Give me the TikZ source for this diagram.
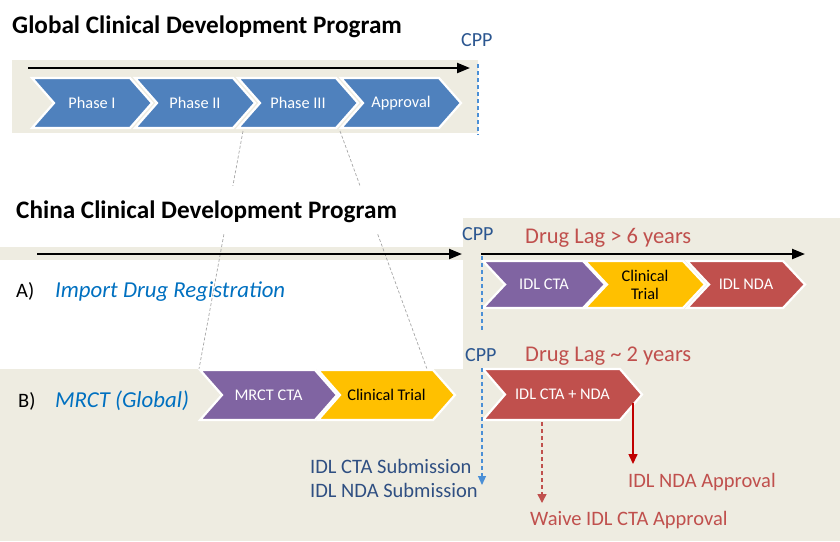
\documentclass[tikz,border=0pt]{standalone}
\usepackage{fontspec}
\setmainfont{Carlito}
\usetikzlibrary{arrows.meta}
\definecolor{beige}{HTML}{EEECE1}
\definecolor{chblue}{HTML}{4F81BD}
\definecolor{chpurple}{HTML}{8064A2}
\definecolor{chyellow}{HTML}{FFC000}
\definecolor{chred}{HTML}{C0504D}
\definecolor{darkred}{HTML}{C00000}
\definecolor{cppblue}{HTML}{2B5690}
\definecolor{subblue}{HTML}{2F4F82}
\definecolor{itblue}{HTML}{0070C0}
\definecolor{dashblue}{HTML}{4A8FD6}
\newcommand\mychev[8]{%
  \fill[#6,draw=white,line width=2.2pt,line join=miter] (#2,#3) -- ++(#4,0) -- ++(22,#5/2) -- ++(-22,#5/2) -- ++(-#4,0) -- ++(22,-#5/2) -- cycle;
  \node[chevtext,#7] (#1) at ({#2+11+#4/2},{#3+#5/2}) {#8};
}
\begin{document}
\begin{tikzpicture}[x=1pt,y=-1pt,
  chevtext/.style={font=\fontsize{16.3}{18}\selectfont,inner sep=0pt,align=center},
  title/.style={font=\fontsize{25.2}{30}\selectfont\bfseries,anchor=base west,inner sep=0pt},
  cpp/.style={font=\fontsize{20}{24}\selectfont,text=cppblue,anchor=base west,inner sep=0pt},
  lag/.style={font=\fontsize{22.5}{26}\selectfont,text=chred,anchor=base west,inner sep=0pt},
  lbl/.style={font=\fontsize{20.5}{24}\selectfont,anchor=base west,inner sep=0pt},
  itl/.style={font=\fontsize{22.8}{26}\selectfont\itshape,text=itblue,anchor=base west,inner sep=0pt},
  timeline/.style={line width=2.2pt,-{Triangle[length=13pt,width=10pt]}},
  guide/.style={draw=gray!70,line width=0.7pt,dash pattern=on 3pt off 2pt},
  cppline/.style={draw=dashblue,line width=1.2pt,dash pattern=on 4pt off 3pt},
]
\useasboundingbox (0,0) rectangle (840,541);
% backgrounds
\fill[beige] (12,60) rectangle (478,133);
\fill[beige] (0,247) rectangle (463,260);
\fill[beige] (463,218) rectangle (840,541);
\fill[beige] (0,369) rectangle (840,541);

% guide lines (zoom from Phase III to MRCT)
\coordinate (g1a) at (243,131);
\coordinate (g1b) at (199,369);
\coordinate (g2a) at (340,131);
\coordinate (g2b) at (427,369);
\draw[guide] (g1a) -- (g1b);
\draw[guide] (g2a) -- (g2b);

% titles
\node[title] (gtitle) at (12,33) {Global Clinical Development Program};
\fill[white] (14,186) rectangle (400,233);
\node[title] (ctitle) at (16,218) {China Clinical Development Program};

% top timeline
\coordinate (t1s) at (28,68);
\coordinate (t1e) at (470,68);
\draw[timeline] (t1s) -- (t1e);
\mychev{p1}{32}{78}{98}{50}{chblue}{text=white}{Phase I}
\mychev{p2}{135}{78}{98}{50}{chblue}{text=white}{Phase II}
\mychev{p3}{238}{78}{98}{50}{chblue}{text=white}{Phase III}
\mychev{p4}{341}{78}{98}{50}{chblue}{text=white}{Approval}
\node[cpp] (cpp1) at (461,46) {CPP};
\coordinate (c1a) at (478,64);
\coordinate (c1b) at (478,135);
\draw[cppline] (c1a) -- (c1b);

% China A
\coordinate (t2s) at (37,254);
\coordinate (t2e) at (462,254);
\draw[timeline] (t2s) -- (t2e);
\coordinate (t3s) at (481,254);
\coordinate (t3e) at (805,254);
\draw[timeline] (t3s) -- (t3e);
\node[cpp] (cpp2) at (462,240) {CPP};
\node[lag] (lag1) at (525,243) {Drug Lag > 6 years};
\node[lbl] (la) at (16,297) {A)};
\node[itl] (ia) at (55,297) {Import Drug Registration};
\mychev{a1}{483}{261}{100}{47}{chpurple}{text=white}{IDL CTA}
\mychev{a2}{585}{261}{98}{47}{chyellow}{text=black}{Clinical\\Trial}
\mychev{a3}{687}{261}{96}{47}{chred}{text=white}{IDL NDA}
\coordinate (c2a) at (482,256);
\coordinate (c2b) at (482,332);
\draw[cppline] (c2a) -- (c2b);

% China B
\node[cpp] (cpp3) at (465,361) {CPP};
\node[lag] (lag2) at (525,361) {Drug Lag \textasciitilde{} 2 years};
\node[lbl] (lb) at (18,407) {B)};
\node[itl] (ib) at (55,407) {MRCT (Global)};
\mychev{b1}{200}{370}{115}{50}{chpurple}{text=white}{MRCT CTA}
\mychev{b2}{318}{370}{115}{50}{chyellow}{text=black}{Clinical Trial}
\mychev{b3}{483}{369}{137}{51}{chred}{text=white}{IDL CTA + NDA}
\coordinate (c3a) at (482,368);
\coordinate (c3b) at (482,485);
\draw[cppline,-{Triangle[length=9pt,width=8pt]}] (c3a) -- (c3b);
\node[lbl,text=subblue] (sub1) at (310,473) {IDL CTA Submission};
\node[lbl,text=subblue] (sub2) at (310,497) {IDL NDA Submission};
\coordinate (w1) at (542,422);
\coordinate (w2) at (542,503);
\draw[draw=chred,line width=1.5pt,dash pattern=on 4pt off 3pt,-{Triangle[length=9pt,width=9pt]}] (w1) -- (w2);
\coordinate (n1) at (633,403);
\coordinate (n2) at (633,464);
\draw[draw=darkred,line width=1.5pt,-{Triangle[length=10pt,width=9pt]}] (n1) -- (n2);
\node[lbl,text=chred] (nda) at (628,487) {IDL NDA Approval};
\node[lbl,text=chred] (waive) at (530,525) {Waive IDL CTA Approval};
\end{tikzpicture}
\end{document}
